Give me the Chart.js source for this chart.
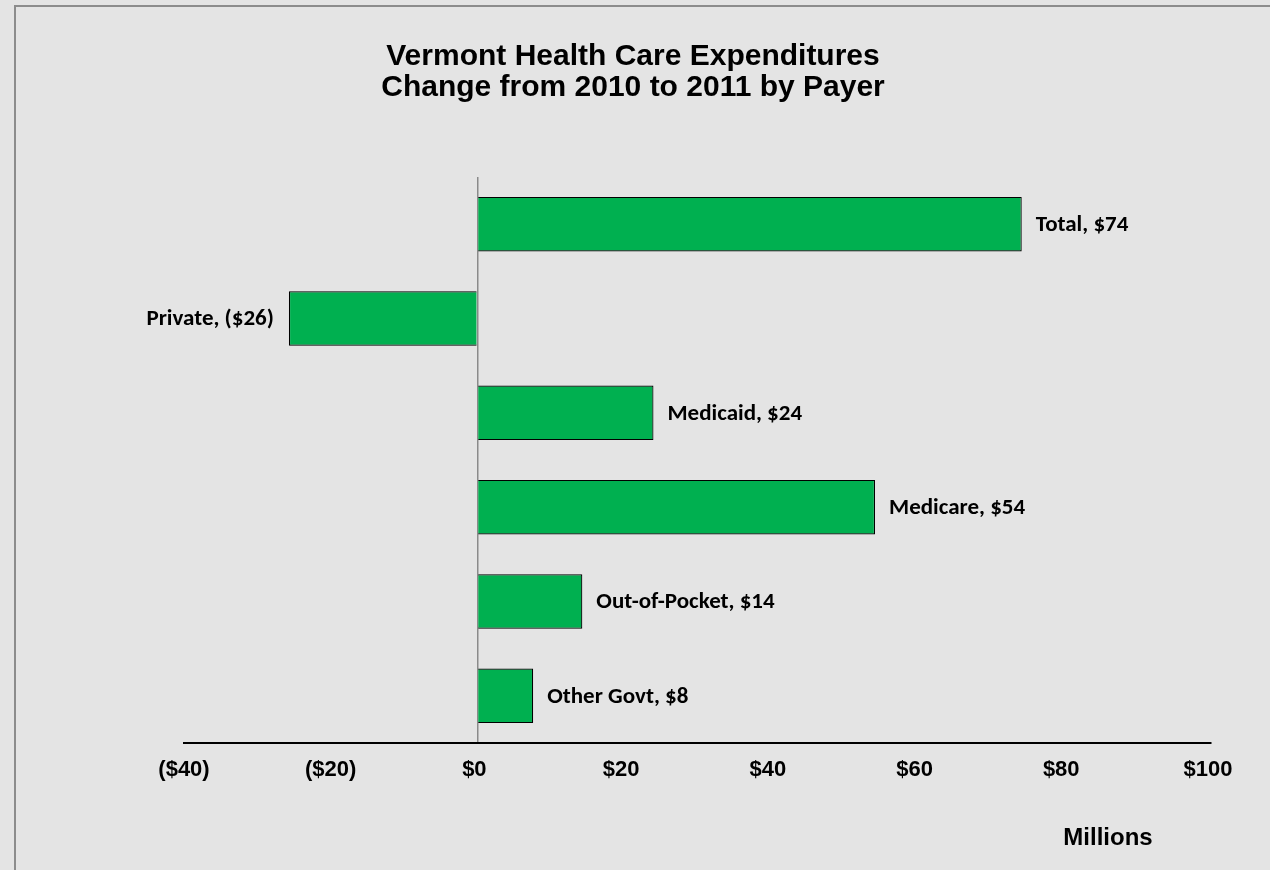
<!DOCTYPE html>
<html>
<head>
<meta charset="utf-8">
<script src="https://cdn.jsdelivr.net/npm/chart.js@4.4.1/dist/chart.umd.min.js"></script>
<style>
  html, body { margin: 0; padding: 0; background: #e4e4e4; overflow: hidden; }
  #frame {
    position: absolute; left: 14px; top: 5px; width: 1300px; height: 900px;
    border-left: 2px solid #8c8c8c; border-top: 2px solid #8c8c8c;
  }
  #wrap { position: absolute; left: 0; top: 0; width: 1270px; height: 870px; }
</style>
</head>
<body>
<div id="frame"></div>
<div id="wrap"><canvas id="payerChart" width="1270" height="870"></canvas></div>
<script>
(function () {
  "use strict";

  var payers = ["Total", "Private", "Medicaid", "Medicare", "Out-of-Pocket", "Other Govt"];
  var changeMillions = [74.2, -25.7, 24.0, 54.2, 14.3, 7.6];
  var valueLabels = ["$74", "($26)", "$24", "$54", "$14", "$8"];
  var titleLines = ["Vermont Health Care Expenditures", "Change from 2010 to 2011 by Payer"];
  var axisMin = -40, axisMax = 100, axisStep = 20;
  var unitLabel = "Millions";

  var arialBold = "'Liberation Sans', Arial, sans-serif";
  var calibriBold = "Carlito, Calibri, Lato, sans-serif";

  function money(v) {
    return v < 0 ? "($" + Math.abs(v) + ")" : "$" + v + " ";
  }

  var textPlugin = {
    id: "textPlugin",
    afterDatasetsDraw: function (chart) {
      var ctx = chart.ctx;
      var meta = chart.getDatasetMeta(0);
      ctx.save();
      ctx.fillStyle = "#000";
      ctx.font = "bold 23px " + calibriBold;
      ctx.textBaseline = "middle";
      meta.data.forEach(function (bar, i) {
        var v = changeMillions[i];
        var txt = payers[i] + ", " + valueLabels[i];
        if (v < 0) {
          ctx.textAlign = "right";
          ctx.fillText(txt, bar.x - 15, bar.y + 1);
        } else {
          ctx.textAlign = "left";
          ctx.fillText(txt, bar.x + 14, bar.y + 1);
        }
      });

      ctx.textAlign = "center";
      ctx.textBaseline = "alphabetic";
      ctx.font = "bold 30px " + arialBold;
      ctx.fillText(titleLines[0], 633, 65);
      ctx.fillText(titleLines[1], 633, 96);

      ctx.font = "bold 24px " + arialBold;
      ctx.fillText(unitLabel, 1108, 845);
      ctx.restore();
    }
  };

  new Chart(document.getElementById("payerChart"), {
    type: "bar",
    data: {
      labels: payers,
      datasets: [
        {
          data: changeMillions,
          backgroundColor: "#00b050",
          borderColor: "#000",
          borderWidth: 1.2,
          borderSkipped: "start",
          barPercentage: 0.578,
          categoryPercentage: 1.0
        }
      ]
    },
    options: {
      indexAxis: "y",
      responsive: false,
      animation: false,
      layout: { padding: { left: 184, right: 59, top: 177, bottom: 77 } },
      plugins: {
        legend: { display: false },
        title: { display: false },
        tooltip: { enabled: false }
      },
      scales: {
        y: { display: false },
        x: {
          min: axisMin,
          max: axisMax,
          z: 1,
          afterFit: function (scale) { scale.height = 50; },
          border: { display: true, color: "#000", width: 2 },
          grid: {
            drawTicks: false,
            lineWidth: 1.5,
            color: function (c) {
              return c.tick && c.tick.value === 0 ? "#8a8a8a" : "rgba(0,0,0,0)";
            }
          },
          ticks: {
            stepSize: axisStep,
            padding: 14,
            color: "#000",
            font: { family: arialBold, size: 22, weight: "bold" },
            maxRotation: 0,
            callback: function (value) { return money(value); }
          }
        }
      }
    },
    plugins: [textPlugin]
  });
})();
</script>
</body>
</html>
